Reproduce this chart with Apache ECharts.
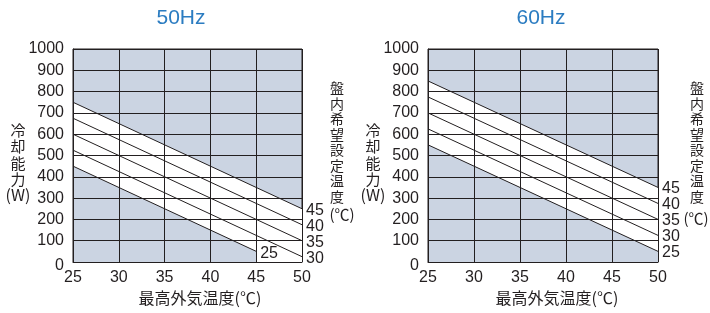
<!DOCTYPE html>
<html>
<head>
<meta charset="utf-8">
<script src="https://cdn.jsdelivr.net/npm/echarts@6/dist/echarts.min.js"></script>
<style>
  html, body { margin: 0; padding: 0; background: #fff; }
  #chart { width: 710px; height: 313px; }
</style>
</head>
<body>
<div id="chart"></div>
<script>
// 盤内希望設定温度 (series names), top line first
const setTemps = ["45", "40", "35", "30", "25"];

// 50Hz: x (最高外気温度) and y (冷却能力) for each line end
const hz50X = [[25, 50], [25, 50], [25, 50], [25, 50], [25, 45]];
const hz50Y = [[750, 250], [675, 175], [600, 100], [525, 25], [450, 50]];

// 60Hz
const hz60X = [[25, 50], [25, 50], [25, 50], [25, 50], [25, 50]];
const hz60Y = [[850, 350], [775, 275], [700, 200], [625, 125], [550, 50]];

const BG = "#cbd4e2";
const INK = "#231f20";
const NUM_FONT = "Liberation Sans";
const CJK_FONT = "Noto Sans CJK JP";

function pairs(xs, ys) {
  return xs.map((x, i) => [x, ys[i]]);
}

function buildSeries(gridIdx, xs, ys, labelOffset) {
  const series = [];
  const last = xs.length - 1;
  xs.forEach((x, i) => {
    series.push({
      type: "line",
      name: setTemps[i],
      xAxisIndex: gridIdx,
      yAxisIndex: gridIdx,
      data: pairs(x, ys[i]),
      showSymbol: false,
      silent: true,
      z: i === 0 ? 2 : 4,
      lineStyle: { color: INK, width: 1 },
      areaStyle: i === 0 ? { color: "#ffffff", opacity: 1 } : undefined,
      endLabel: {
        show: true,
        formatter: "{a}",
        distance: 4,
        offset: [0, labelOffset],
        color: INK,
        fontSize: 16,
        fontFamily: NUM_FONT,
      },
    });
  });
  // cover the area below the lowest line with the plot background
  const lx = xs[last];
  const ly = ys[last];
  const patch = pairs(lx, ly);
  if (lx[lx.length - 1] < 50) {
    patch.push([lx[lx.length - 1], 0], [50, 0]);
  }
  series.push({
    type: "line",
    xAxisIndex: gridIdx,
    yAxisIndex: gridIdx,
    data: patch,
    showSymbol: false,
    silent: true,
    z: 3,
    lineStyle: { width: 0, opacity: 0 },
    areaStyle: { color: BG, opacity: 1 },
  });
  return series;
}

function xAxisOf(gridIndex) {
  return {
    type: "value",
    gridIndex: gridIndex,
    min: 25,
    max: 50,
    interval: 5,
    z: 5,
    axisLine: { show: true, onZero: false, lineStyle: { color: INK, width: 1 } },
    axisTick: { show: false },
    axisLabel: { color: INK, fontSize: 16, fontFamily: NUM_FONT, margin: 8 },
    splitLine: { show: true, lineStyle: { color: INK, width: 1 } },
  };
}

function yAxisOf(gridIndex) {
  return {
    type: "value",
    gridIndex: gridIndex,
    min: 0,
    max: 1000,
    interval: 100,
    z: 5,
    axisLine: { show: true, onZero: false, lineStyle: { color: INK, width: 1 } },
    axisTick: { show: false },
    axisLabel: {
      color: INK,
      fontSize: 16,
      fontFamily: NUM_FONT,
      margin: 9,
      formatter: (v) => (v === 0 ? "{z|0}" : String(v)),
      rich: {
        z: { color: INK, fontSize: 16, fontFamily: NUM_FONT, padding: [7, 0, 0, 0] },
      },
    },
    splitLine: { show: true, lineStyle: { color: INK, width: 1 } },
  };
}

function txt(text, x, y, size, opts) {
  return {
    type: "text",
    silent: true,
    style: Object.assign({
      text: text,
      x: x,
      y: y,
      fill: INK,
      font: size + "px '" + CJK_FONT + "'",
      textAlign: "center",
      textVerticalAlign: "middle",
    }, opts || {}),
  };
}

function sideTexts(dx) {
  return [
    txt("冷\n却\n能\n力", 18 + dx, 122, 15, { textVerticalAlign: "top", lineHeight: 16.5 }),
    txt("(W)", 18 + dx, 195, 16),
  ];
}

const chartDom = document.getElementById("chart");
const myChart = echarts.init(chartDom);
const option = {
  animation: false,
  grid: [
    { left: 73, right: 408, top: 49, bottom: 51, show: true, backgroundColor: BG, borderColor: INK, borderWidth: 1 },
    { left: 428, right: 52, top: 49, bottom: 51, show: true, backgroundColor: BG, borderColor: INK, borderWidth: 1 },
  ],
  xAxis: [xAxisOf(0), xAxisOf(1)],
  yAxis: [yAxisOf(0), yAxisOf(1)],
  series: buildSeries(0, hz50X, hz50Y, 2).concat(buildSeries(1, hz60X, hz60Y, 1)),
  graphic: [
    txt("50Hz", 181, 18, 21, { font: "21px '" + NUM_FONT + "'", fill: "#2b7cc1" }),
    txt("60Hz", 541, 18, 21, { font: "21px '" + NUM_FONT + "'", fill: "#2b7cc1" }),
    txt("最高外気温度(℃)", 200, 298, 16),
    txt("最高外気温度(℃)", 557, 298, 16),
    ...sideTexts(0),
    ...sideTexts(355),
    txt("盤\n内\n希\n望\n設\n定\n温\n度", 337, 80, 14, { textVerticalAlign: "top", lineHeight: 15.5 }),
    txt("(℃)", 342, 214, 15),
    txt("盤\n内\n希\n望\n設\n定\n温\n度", 697, 80, 14, { textVerticalAlign: "top", lineHeight: 15.5 }),
    txt("(℃)", 696, 218, 15),
  ],
};
myChart.setOption(option);
window.addEventListener("resize", () => {
  myChart.resize();
});
</script>
</body>
</html>
